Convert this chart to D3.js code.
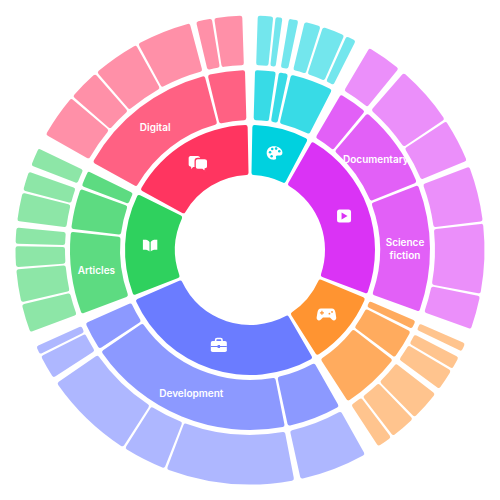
<!DOCTYPE html>
<html><head><meta charset="utf-8">
<style>html,body{margin:0;padding:0;background:#fff}svg{display:block}
text{font-family:Inter,"Noto Sans",sans-serif;font-weight:600;font-size:10px;fill:#fff;text-anchor:middle}</style>
<script src="https://cdnjs.cloudflare.com/ajax/libs/d3/7.8.5/d3.min.js"></script></head>
<body><svg id="c" width="500" height="500"></svg>
<script>
const categories = ["Art","Video","Games","Work","Books","Social"];
const categoryColors = ["#00d1df","#da33f5","#ff9431","#6b7cff","#2fd15e","#ff3560"];
const artValues = [[5.4,2.8],[4.2],[5.3,7.1,3.55]];
const videoValues = [[10.5],[16.6,12.1],[14.9,18.5,9.3]];
const gamesValues = [[3.9],[4.4,6.8],[9.05,7.7,4.85]];
const workValues = [[18.7],[33.1,11.7,23.8],[7.4,3.0]];
const booksValues = [[8.2,9.3,6.1,4.9],[8.5,6.0],[6.35]];
const socialValues = [[12,8.75,12.8,14.85],[5,8.3]];
const allValues = [artValues,videoValues,gamesValues,workValues,booksValues,socialValues];
const artLabels = ["","",""];
const videoLabels = ["","Documentary","Science|fiction"];
const gamesLabels = ["","",""];
const workLabels = ["","Development",""];
const booksLabels = ["Articles","",""];
const socialLabels = ["Digital",""];
const allLabels = [artLabels,videoLabels,gamesLabels,workLabels,booksLabels,socialLabels];

const cx = 250, cy = 250;
const rad = d3.scaleOrdinal([1,2,3],[[75,125],[130,180],[185,234.5]]);
const pads = {0:0,1:2.2,2:1.0,3:0.6};
const ringOpacity = {1:1,2:0.78,3:0.55};
const toRad = d => d*Math.PI/180;

const tree = {children: categories.map((c,i)=>({name:c,idx:i,children:allValues[i].map((p,j)=>({
  name:allLabels[i][j]||"",children:p.map(v=>({value:v}))}))}))};
const root = d3.partition().size([360,4])(d3.hierarchy(tree).sum(d=>d.value||0));

// nested angular inset: children fill what remains of the parent after its padding
root.each(n=>{
  if(!n.parent){n.a0=0;n.a1=360;return;}
  const s=d3.scaleLinear([n.parent.x0,n.parent.x1],[n.parent.a0,n.parent.a1]);
  const p=pads[n.depth];
  n.a0=s(n.x0)+p/2; n.a1=s(n.x1)-p/2;
});

const arc = d3.arc().cornerRadius(2.2)
  .innerRadius(d=>rad(d.depth)[0]).outerRadius(d=>rad(d.depth)[1])
  .startAngle(d=>toRad(d.a0)).endAngle(d=>toRad(d.a1));

const colorOf = n=>categoryColors[n.ancestors().find(a=>a.depth===1).data.idx];
const svg=d3.select("#c");
const g=svg.append("g").attr("transform",`translate(${cx},${cy})`);
const nodes=root.descendants().filter(d=>d.depth>0);
g.selectAll("path.s").data(nodes).join("path").attr("class","s")
  .attr("d",arc).attr("fill",colorOf).attr("fill-opacity",d=>ringOpacity[d.depth]);

// labels
nodes.filter(d=>d.depth===2&&d.data.name).forEach(d=>{
  const [x,y]=arc.centroid(d);
  const lines=d.data.name.split("|");
  const t=g.append("text").attr("x",x).attr("y",y);
  lines.forEach((l,i)=>t.append("tspan").attr("x",x)
    .attr("y",y+3.8+(i-(lines.length-1)/2)*13).text(l));
});

// icons
const icons={
 Art:(s,c)=>{s.attr("transform",s.attr("transform")+" scale(0.9)");s.append("path").attr("fill","#fff").attr("d","M-1,-7.5C4,-7.5 8.5,-4.5 8.5,-0.5C8.5,2.5 6,3 3.5,2.7C1.5,2.5 0.8,3.6 1.4,5C2,6.5 0.8,7.5 -1,7.5C-6,7.5 -9,4 -9,0C-9,-4.5 -5.5,-7.5 -1,-7.5Z");
   [[-5.2,-1],[-2.8,-4.5],[1.5,-5],[5,-2.2],[-3.5,3.4]].forEach(p=>s.append("circle").attr("cx",p[0]).attr("cy",p[1]).attr("r",1.4).attr("fill",c));},
 Video:(s,c)=>{s.append("rect").attr("x",-7).attr("y",-6.5).attr("width",14).attr("height",13).attr("rx",2.5).attr("fill","#fff");
   s.append("path").attr("fill",c).attr("d","M-2.5,-3.5L3.5,0L-2.5,3.5Z");},
 Games:(s,c)=>{s.append("path").attr("fill","#fff").attr("d","M-5.5,-6H5.5C7.5,-6 8.5,-4.5 9,-2L9.8,3C10.1,5.5 7.5,7 5.5,5L3.5,3H-3.5L-5.5,5C-7.5,7 -10.1,5.5 -9.8,3L-9,-2C-8.5,-4.5 -7.5,-6 -5.5,-6Z");
   s.append("path").attr("stroke",c).attr("stroke-width",1.2).attr("d","M-6.5,-1.7H-2.5M-4.5,-3.7V0.3");
   s.append("circle").attr("cx",3).attr("cy",-0.8).attr("r",0.9).attr("fill",c);
   s.append("circle").attr("cx",5.6).attr("cy",-2.6).attr("r",0.9).attr("fill",c);},
 Work:(s,c)=>{s.append("path").attr("fill","none").attr("stroke","#fff").attr("stroke-width",1.6).attr("d","M-3.2,-3.5V-5C-3.2,-6 -2.5,-6.5 -1.8,-6.5H1.8C2.5,-6.5 3.2,-6 3.2,-5V-3.5");
   s.append("rect").attr("x",-8).attr("y",-4).attr("width",16).attr("height",11).attr("rx",1.8).attr("fill","#fff");
   s.append("rect").attr("x",-8).attr("y",1).attr("width",16).attr("height",1).attr("fill",c);
   s.append("rect").attr("x",-1.2).attr("y",0).attr("width",2.4).attr("height",3).attr("fill",c);},
 Books:(s,c)=>{s.append("path").attr("fill","#fff").attr("d","M-0.6,-3.5C-1.8,-5.5 -4,-6 -7.2,-5.7V4.3C-4,4 -1.8,4.5 -0.6,6Z");
   s.append("path").attr("fill","#fff").attr("d","M0.6,-3.5C1.8,-5.5 4,-6 7.2,-5.7V4.3C4,4 1.8,4.5 0.6,6Z");},
 Social:(s,c)=>{s.append("path").attr("fill","#fff").attr("d","M-9.5,-6.5C-9.5,-8 -8.3,-8.5 -7,-8.5H-0.5C1,-8.5 2,-7.5 2,-6.5V0C2,1.5 1,2.5 -0.5,2.5H-5L-7,4.5V2.3C-8.5,2 -9.5,1.5 -9.5,0Z");
   s.append("path").attr("fill","#fff").attr("stroke",c).attr("stroke-width",1.3).attr("d","M-3,-3.5C-3,-5.2 -2,-6 -0.5,-6H6.5C8.2,-6 9.5,-5.2 9.5,-3.5V2C9.5,3.5 8.5,4.3 7,4.5V7.5L4,4.8H-0.5C-2,4.8 -3,3.8 -3,2.2Z");}
};
nodes.filter(d=>d.depth===1).forEach(d=>{
  const [x,y]=arc.centroid(d);
  const s=g.append("g").attr("transform",`translate(${x},${y})`);
  icons[d.data.name](s,colorOf(d));
});
</script></body></html>
